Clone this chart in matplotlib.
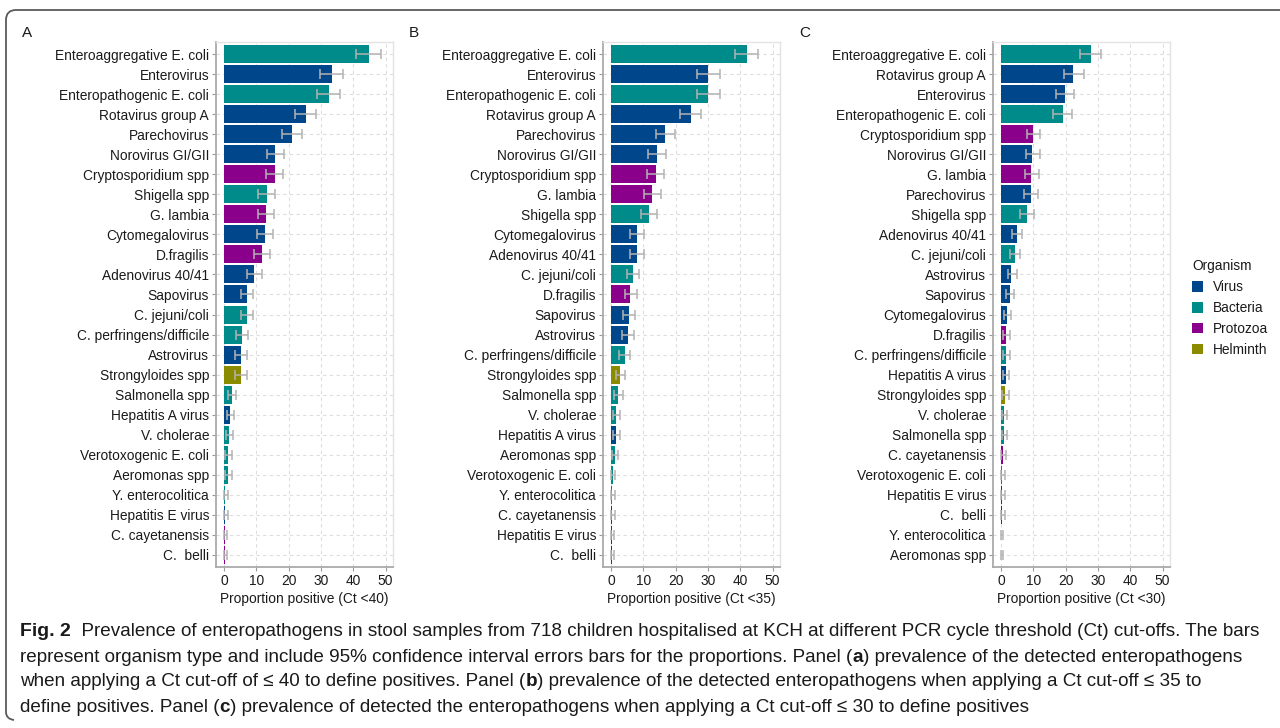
import matplotlib
matplotlib.use("Agg")
import matplotlib.pyplot as plt
from matplotlib.patches import Patch
from matplotlib.path import Path
from matplotlib.patches import PathPatch

plt.rcParams['font.family'] = ['Liberation Sans', 'DejaVu Sans']

# ---- data (percent positive, 95% CI) ----
organism_of = {
    'Enteroaggregative E. coli': 'Bacteria', 'Enterovirus': 'Virus',
    'Enteropathogenic E. coli': 'Bacteria', 'Rotavirus group A': 'Virus',
    'Parechovirus': 'Virus', 'Norovirus GI/GII': 'Virus',
    'Cryptosporidium spp': 'Protozoa', 'Shigella spp': 'Bacteria',
    'G. lambia': 'Protozoa', 'Cytomegalovirus': 'Virus',
    'D.fragilis': 'Protozoa', 'Adenovirus 40/41': 'Virus',
    'Sapovirus': 'Virus', 'C. jejuni/coli': 'Bacteria',
    'C. perfringens/difficile': 'Bacteria', 'Astrovirus': 'Virus',
    'Strongyloides spp': 'Helminth', 'Salmonella spp': 'Bacteria',
    'Hepatitis A virus': 'Virus', 'V. cholerae': 'Bacteria',
    'Verotoxogenic E. coli': 'Bacteria', 'Aeromonas spp': 'Bacteria',
    'Y. enterocolitica': 'Bacteria', 'Hepatitis E virus': 'Virus',
    'C. cayetanensis': 'Protozoa', 'C.  belli': 'Protozoa',
}
colors = {'Virus': '#00468B', 'Bacteria': '#008B8B',
          'Protozoa': '#8B008B', 'Helminth': '#8B8B00'}

names_40 = ['Enteroaggregative E. coli', 'Enterovirus', 'Enteropathogenic E. coli',
            'Rotavirus group A', 'Parechovirus', 'Norovirus GI/GII',
            'Cryptosporidium spp', 'Shigella spp', 'G. lambia', 'Cytomegalovirus',
            'D.fragilis', 'Adenovirus 40/41', 'Sapovirus', 'C. jejuni/coli',
            'C. perfringens/difficile', 'Astrovirus', 'Strongyloides spp',
            'Salmonella spp', 'Hepatitis A virus', 'V. cholerae',
            'Verotoxogenic E. coli', 'Aeromonas spp', 'Y. enterocolitica',
            'Hepatitis E virus', 'C. cayetanensis', 'C.  belli']
pct_40 = [44.8, 33.3, 32.4, 25.3, 21.0, 15.7, 15.7, 13.3, 13.0, 12.7, 11.7, 9.3, 7.1,
          7.1, 5.6, 5.2, 5.2, 2.5, 1.85, 1.5, 1.2, 1.2, 0.3, 0.3, 0.15, 0.15]
lo_40 = [40.9, 29.6, 28.8, 21.9, 17.9, 13.2, 12.9, 10.6, 10.5, 10.2, 9.2, 7.0, 5.1,
         5.1, 3.7, 3.5, 3.5, 1.3, 0.8, 0.6, 0.3, 0.3, 0.0, 0.0, 0.0, 0.0]
hi_40 = [48.5, 36.8, 35.9, 28.4, 24.1, 18.6, 18.3, 15.7, 15.5, 15.2, 14.1, 11.6, 9.0,
         9.0, 7.4, 7.1, 7.1, 3.8, 3.2, 2.9, 2.3, 2.3, 1.1, 1.1, 1.0, 0.9]

names_35 = ['Enteroaggregative E. coli', 'Enterovirus', 'Enteropathogenic E. coli',
            'Rotavirus group A', 'Parechovirus', 'Norovirus GI/GII',
            'Cryptosporidium spp', 'G. lambia', 'Shigella spp', 'Cytomegalovirus',
            'Adenovirus 40/41', 'C. jejuni/coli', 'D.fragilis', 'Sapovirus',
            'Astrovirus', 'C. perfringens/difficile', 'Strongyloides spp',
            'Salmonella spp', 'V. cholerae', 'Hepatitis A virus', 'Aeromonas spp',
            'Verotoxogenic E. coli', 'Y. enterocolitica', 'C. cayetanensis',
            'Hepatitis E virus', 'C.  belli']
pct_35 = [42.0, 30.1, 30.1, 24.6, 16.6, 14.2, 13.9, 12.7, 11.7, 8.1, 8.1, 6.8, 5.9,
          5.6, 5.3, 4.4, 2.8, 2.2, 1.6, 1.6, 1.3, 0.6, 0.3, 0.2, 0.2, 0.15]
lo_35 = [38.3, 26.7, 26.7, 21.2, 13.9, 11.5, 11.2, 10.2, 9.3, 6.0, 6.0, 4.9, 4.3,
         3.7, 3.4, 2.6, 1.4, 1.0, 0.6, 0.6, 0.3, 0.1, 0.0, 0.0, 0.0, 0.0]
hi_35 = [45.6, 33.7, 33.7, 27.7, 19.7, 16.9, 16.5, 15.4, 14.2, 10.3, 10.3, 8.7, 8.0,
         7.3, 7.0, 6.0, 4.3, 3.6, 2.8, 2.8, 2.2, 1.3, 1.2, 1.1, 1.0, 1.0]

names_30 = ['Enteroaggregative E. coli', 'Rotavirus group A', 'Enterovirus',
            'Enteropathogenic E. coli', 'Cryptosporidium spp', 'Norovirus GI/GII',
            'G. lambia', 'Parechovirus', 'Shigella spp', 'Adenovirus 40/41',
            'C. jejuni/coli', 'Astrovirus', 'Sapovirus', 'Cytomegalovirus',
            'D.fragilis', 'C. perfringens/difficile', 'Hepatitis A virus',
            'Strongyloides spp', 'V. cholerae', 'Salmonella spp', 'C. cayetanensis',
            'Verotoxogenic E. coli', 'Hepatitis E virus', 'C.  belli',
            'Y. enterocolitica', 'Aeromonas spp']
pct_30 = [27.7, 22.4, 19.7, 19.1, 9.8, 9.5, 9.2, 9.2, 8.0, 4.9, 4.3, 3.1, 2.8, 1.8,
          1.5, 1.5, 1.5, 1.1, 0.8, 0.8, 0.5, 0.2, 0.2, 0.2, 0.1, 0.1]
lo_30 = [24.3, 19.4, 16.9, 16.0, 7.9, 7.6, 7.3, 7.0, 6.0, 3.3, 2.8, 2.2, 1.5, 0.8,
         0.6, 0.6, 0.6, 0.3, 0.2, 0.2, 0.1, 0.0, 0.0, 0.0, 0.0, 0.0]
hi_30 = [30.9, 25.6, 22.7, 22.0, 12.2, 11.9, 11.6, 11.3, 10.3, 6.5, 6.0, 4.8, 4.0,
         3.1, 2.8, 2.8, 2.5, 2.3, 1.9, 1.7, 1.4, 1.1, 1.1, 1.1, 0.7, 0.7]

panels = [('A', names_40, pct_40, lo_40, hi_40, 'Proportion positive (Ct <40)', 216),
          ('B', names_35, pct_35, lo_35, hi_35, 'Proportion positive (Ct <35)', 603),
          ('C', names_30, pct_30, lo_30, hi_30, 'Proportion positive (Ct <30)', 993)]

W, H = 1280, 728
fig = plt.figure(figsize=(W / 100, H / 100), dpi=100)

ax_top, ax_bot, ax_w = 42, 567, 177
txt = '#1a1a1a'
for letter, names, pct, lo, hi, xlabel, left in panels:
    ax = fig.add_axes([left / W, 1 - ax_bot / H, ax_w / W, (ax_bot - ax_top) / H])
    y = list(range(len(names)))
    cols = [colors[organism_of[n]] for n in names]
    ax.barh(y, pct, height=0.9, color=cols, zorder=2)
    err = [[p - l for p, l in zip(pct, lo)], [h - p for p, h in zip(pct, hi)]]
    ax.errorbar(pct, y, xerr=err, fmt='none', ecolor='#b3b3b3', elinewidth=1.1,
                capsize=3.5, capthick=1.1, zorder=3)
    ax.set_yticks(y)
    ax.set_yticklabels(names)
    ax.set_ylim(len(names) - 0.4, -0.6)
    ax.set_xlim(-2.5, 52.3)
    ax.set_xticks([0, 10, 20, 30, 40, 50])
    ax.tick_params(color='#999999', length=3, width=0.8, labelsize=9.9,
                   labelcolor=txt, pad=2)
    ax.grid(True, color='#dddddd', linestyle=(0, (3, 3)), linewidth=0.8, zorder=0)
    ax.set_axisbelow(True)
    for s in ['left', 'bottom']:
        ax.spines[s].set_color('#aaaaaa')
        ax.spines[s].set_linewidth(1.3)
    for s in ['top', 'right']:
        ax.spines[s].set_color('#e3e3e3')
        ax.spines[s].set_linewidth(1.0)
    ax.set_xlabel(xlabel, fontsize=9.9, color=txt, labelpad=3)
    fig.text((left - 194) / W, 1 - 33 / H, letter, fontsize=11, va='center', ha='left',
             color=txt)

handles = [Patch(facecolor=colors[k], edgecolor='none') for k in colors]
leg = fig.legend(handles, list(colors.keys()), title='Organism', loc='upper left',
                 bbox_to_anchor=(1180 / W, 1 - 247 / H), frameon=False, fontsize=9.9,
                 title_fontsize=9.9, handlelength=0.8, handleheight=0.8,
                 handletextpad=0.7, labelspacing=0.5, alignment='left')
for t in leg.get_texts():
    t.set_color(txt)
leg.get_title().set_color(txt)

# outer box of the figure
r = 10
verts = [(W + 5, 10), (6 + r, 10), (6, 10), (6, 10 + r), (6, 712), (6, 719), (14, 720)]
codes = [Path.MOVETO, Path.LINETO, Path.CURVE3, Path.CURVE3, Path.LINETO,
         Path.CURVE3, Path.CURVE3]
verts = [(x / W, 1 - yy / H) for x, yy in verts]
fig.patches.append(PathPatch(Path(verts, codes), fill=False, edgecolor='#5a5a5a',
                             linewidth=1.3, transform=fig.transFigure))

# caption
cap_font = ['Liberation Sans', 'DejaVu Sans']
fs = 13.6
caption = [
    [('Fig. 2', 'bold', 14), ('  Prevalence of enteropathogens in stool samples from 718 children '
                              'hospitalised at KCH at different PCR cycle threshold (Ct) cut-offs. The bars',
                              'normal', fs)],
    [('represent organism type and include 95% confidence interval errors bars for the proportions. '
      'Panel (', 'normal', fs), ('a', 'bold', fs),
     (') prevalence of the detected enteropathogens', 'normal', fs)],
    [('when applying a Ct cut-off of \u2264 40 to define positives. Panel (', 'normal', fs),
     ('b', 'bold', fs),
     (') prevalence of the detected enteropathogens when applying a Ct cut-off \u2264 35 to',
      'normal', fs)],
    [('define positives. Panel (', 'normal', fs), ('c', 'bold', fs),
     (') prevalence of detected the enteropathogens when applying a Ct cut-off \u2264 30 to define positives',
      'normal', fs)],
]
renderer = fig.canvas.get_renderer()
for i, line in enumerate(caption):
    x = 20
    yc = 632 + 25 * i
    for s, wt, size in line:
        t = fig.text(x / W, 1 - yc / H, s, fontsize=size, fontweight=wt, family=cap_font,
                     va='center', ha='left', color=txt)
        x += t.get_window_extent(renderer).width

fig.savefig('out.png', dpi=100)
